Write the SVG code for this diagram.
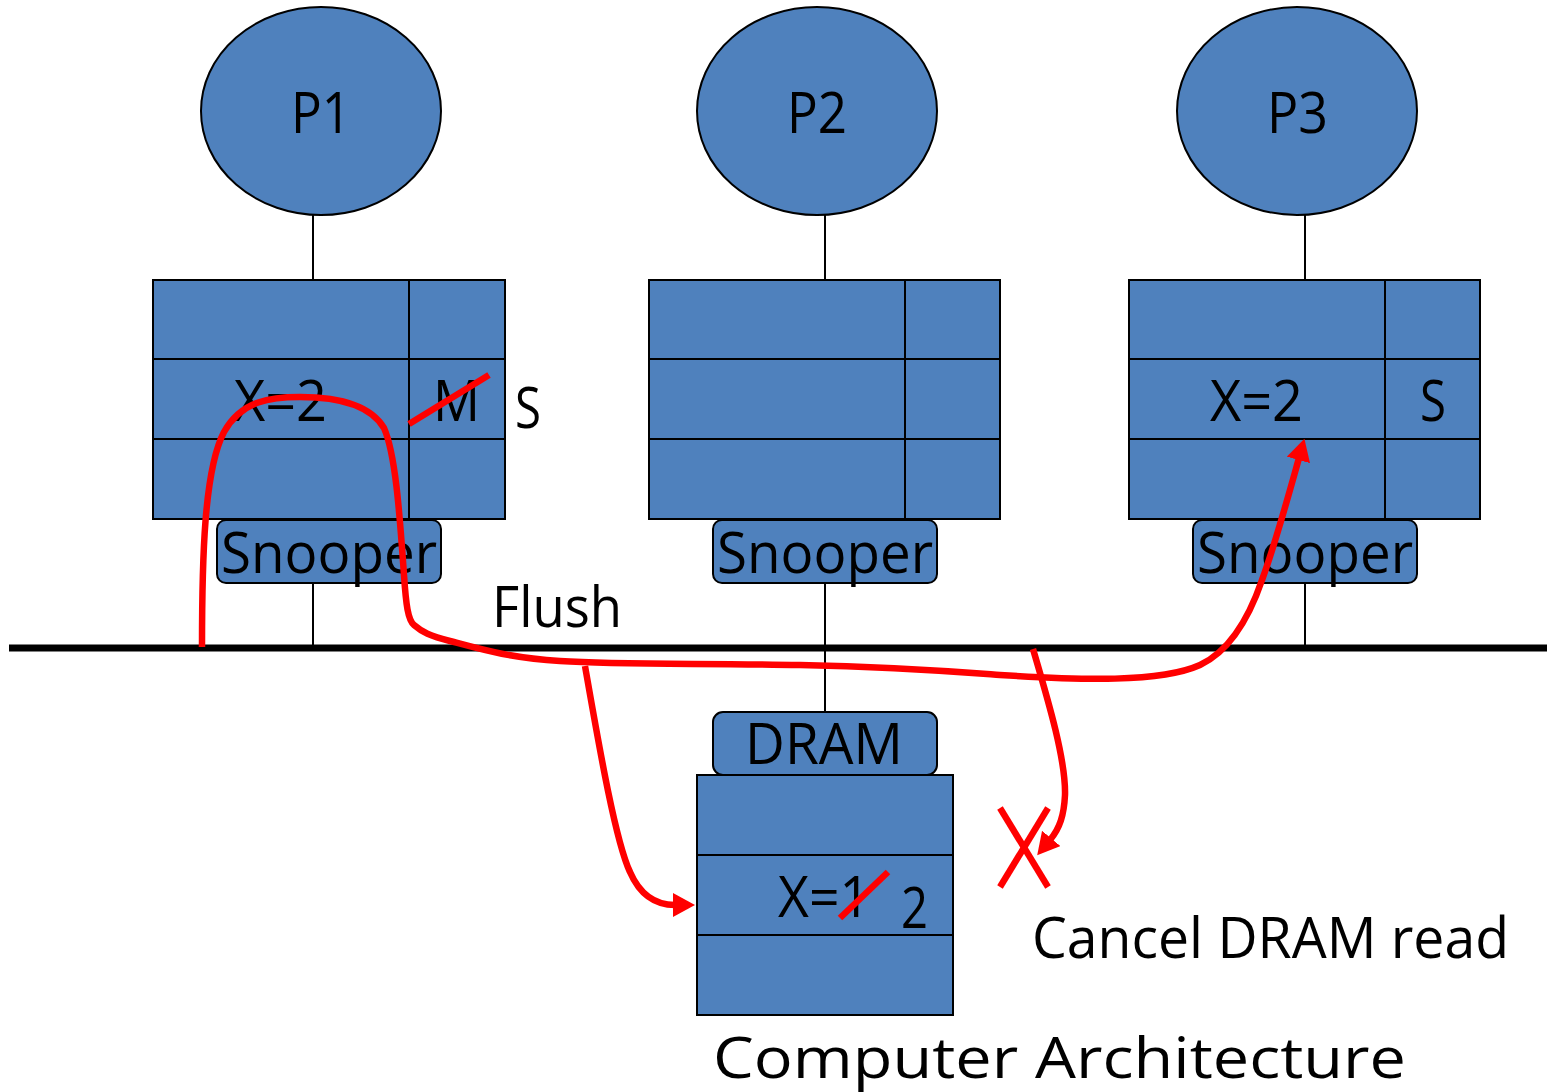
<svg xmlns="http://www.w3.org/2000/svg" width="1547" height="1092" viewBox="0 0 1547 1092">
<style>
.blk{fill:#4F81BD;stroke:#000;stroke-width:2}
.ln{stroke:#000;stroke-width:2;fill:none}
.t{font-family:"Open Sans","Noto Sans","DejaVu Sans",sans-serif;font-size:57px;fill:#000}
.red{stroke:#FF0000;stroke-width:6.5;fill:none}
</style>
<defs>
<marker id="ah" markerUnits="userSpaceOnUse" markerWidth="22" markerHeight="24" viewBox="0 0 22 24" refX="2" refY="12" orient="auto">
<path d="M0,0 L22,12 L0,24 Z" fill="#FF0000"/>
</marker>
</defs>
<rect width="1547" height="1092" fill="#fff"/>

<g id="bus">
<line x1="9" y1="648" x2="1547" y2="648" stroke="#000" stroke-width="7"/>
</g>

<g id="wires">
<line class="ln" x1="313" y1="215" x2="313" y2="280"/>
<line class="ln" x1="825" y1="215" x2="825" y2="280"/>
<line class="ln" x1="1305" y1="215" x2="1305" y2="280"/>
<line class="ln" x1="313" y1="583" x2="313" y2="646"/>
<line class="ln" x1="825" y1="583" x2="825" y2="712"/>
<line class="ln" x1="1305" y1="583" x2="1305" y2="646"/>
</g>

<g id="P1">
<ellipse class="blk" cx="321" cy="111" rx="120" ry="104"/>
<text class="t" x="291" y="133" textLength="60" lengthAdjust="spacingAndGlyphs">P1</text>
</g>
<g id="P2">
<ellipse class="blk" cx="817" cy="111" rx="120" ry="104"/>
<text class="t" x="787" y="133" textLength="60" lengthAdjust="spacingAndGlyphs">P2</text>
</g>
<g id="P3">
<ellipse class="blk" cx="1297" cy="111" rx="120" ry="104"/>
<text class="t" x="1267" y="133" textLength="61" lengthAdjust="spacingAndGlyphs">P3</text>
</g>

<g id="cache1">
<rect class="blk" x="153" y="280" width="352" height="239"/>
<line class="ln" x1="153" y1="359" x2="505" y2="359"/>
<line class="ln" x1="153" y1="439" x2="505" y2="439"/>
<line class="ln" x1="409" y1="280" x2="409" y2="519"/>
<text class="t" x="234" y="421" textLength="93" lengthAdjust="spacingAndGlyphs">X=2</text>
<text class="t" x="433" y="421" textLength="47" lengthAdjust="spacingAndGlyphs">M</text>
</g>
<g id="cache2">
<rect class="blk" x="649" y="280" width="351" height="239"/>
<line class="ln" x1="649" y1="359" x2="1000" y2="359"/>
<line class="ln" x1="649" y1="439" x2="1000" y2="439"/>
<line class="ln" x1="905" y1="280" x2="905" y2="519"/>
</g>
<g id="cache3">
<rect class="blk" x="1129" y="280" width="351" height="239"/>
<line class="ln" x1="1129" y1="359" x2="1480" y2="359"/>
<line class="ln" x1="1129" y1="439" x2="1480" y2="439"/>
<line class="ln" x1="1385" y1="280" x2="1385" y2="519"/>
<text class="t" x="1210" y="421" textLength="93" lengthAdjust="spacingAndGlyphs">X=2</text>
<text class="t" x="1420" y="421" textLength="26" lengthAdjust="spacingAndGlyphs">S</text>
</g>

<g id="snooper1">
<rect class="blk" x="217" y="520" width="224" height="63" rx="9"/>
<text class="t" x="221" y="573" textLength="216" lengthAdjust="spacingAndGlyphs">Snooper</text>
</g>
<g id="snooper2">
<rect class="blk" x="713" y="520" width="224" height="63" rx="9"/>
<text class="t" x="717" y="573" textLength="216" lengthAdjust="spacingAndGlyphs">Snooper</text>
</g>
<g id="snooper3">
<rect class="blk" x="1193" y="520" width="224" height="63" rx="9"/>
<text class="t" x="1197" y="573" textLength="216" lengthAdjust="spacingAndGlyphs">Snooper</text>
</g>

<g id="dram">
<rect class="blk" x="713" y="712" width="224" height="63" rx="10"/>
<text class="t" x="745" y="764" font-size="52" textLength="158" lengthAdjust="spacingAndGlyphs">DRAM</text>
<rect class="blk" x="697" y="775" width="256" height="240"/>
<line class="ln" x1="697" y1="855" x2="953" y2="855"/>
<line class="ln" x1="697" y1="935" x2="953" y2="935"/>
<text class="t" x="778" y="917" textLength="92" lengthAdjust="spacingAndGlyphs">X=1</text>
<text class="t" x="901" y="928" textLength="27" lengthAdjust="spacingAndGlyphs">2</text>
</g>

<g id="labels">
<text class="t" x="515" y="428" textLength="26" lengthAdjust="spacingAndGlyphs">S</text>
<text class="t" x="492" y="627" textLength="130" lengthAdjust="spacingAndGlyphs">Flush</text>
<text class="t" x="1032" y="958" textLength="477" lengthAdjust="spacingAndGlyphs">Cancel DRAM read</text>
<text class="t" x="713" y="1078" font-size="65" textLength="693" lengthAdjust="spacingAndGlyphs">Computer Architecture</text>
</g>

<g id="connectors">
<path class="red" marker-end="url(#ah)" d="M202,647 C202,560 204,470 224,432 C242,400 272,397 300,397 C345,397 372,408 384,428 C396,455 400,520 404,575 C406,605 408,620 414,625 C422,632 430,636 450,641 C480,649 510,658 560,661 C620,665 700,663 800,665 C900,667 960,672 1000,675 C1080,680 1160,683 1200,665 C1232,650 1250,615 1262,580 C1275,545 1290,490 1299,458"/>
<path class="red" marker-end="url(#ah)" d="M585,666 C598,740 615,840 630,872 C640,895 655,905 675,905"/>
<path class="red" marker-end="url(#ah)" d="M1033,649 C1048,700 1066,760 1065,795 C1064,815 1060,828 1050,840"/>
<line class="red" x1="409" y1="424" x2="489" y2="375"/>
<line class="red" x1="840" y1="918" x2="888" y2="872"/>
<line class="red" x1="1000" y1="808" x2="1048" y2="887"/>
<line class="red" x1="1048" y1="808" x2="1000" y2="887"/>
</g>
</svg>
